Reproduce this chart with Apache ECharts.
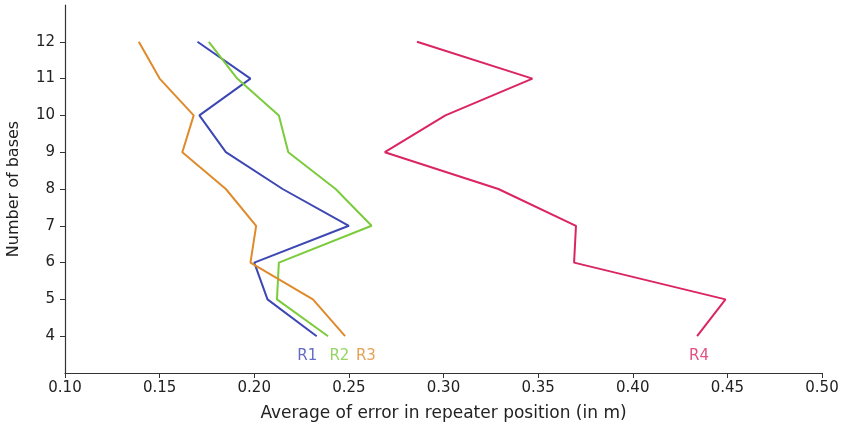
<!DOCTYPE html>
<html>
<head>
<meta charset="utf-8">
<script src="https://cdn.jsdelivr.net/npm/echarts@6/dist/echarts.min.js"></script>
<style>
  html, body { margin: 0; padding: 0; background: #fff; }
  #chart { width: 842px; height: 428px; }
</style>
</head>
<body>
<div id="chart"></div>
<script>
// number of bases (y) and average error per repeater (x)
const bases = [12, 11, 10, 9, 8, 7, 6, 5, 4]
const r1 = [0.170, 0.198, 0.171, 0.185, 0.215, 0.250, 0.200, 0.207, 0.233]
const r2 = [0.176, 0.191, 0.213, 0.218, 0.243, 0.262, 0.213, 0.212, 0.239]
const r3 = [0.139, 0.150, 0.168, 0.162, 0.185, 0.201, 0.198, 0.231, 0.248]
const r4 = [0.286, 0.347, 0.301, 0.269, 0.329, 0.370, 0.369, 0.449, 0.434]

// text labels next to line ends
const labelNames = ['R1', 'R2', 'R3', 'R4']
const labelX = [0.228, 0.245, 0.259, 0.435]
const labelY = [3.45, 3.45, 3.45, 3.45]

const colors = ['#3d47b3', '#7bcb3c', '#df8a2b', '#db2563']
const yTicks = [4, 5, 6, 7, 8, 9, 10, 11, 12]

const pairs = xs => xs.map((x, i) => [x, bases[i]])
const font = 'DejaVu Sans'

const chart = echarts.init(document.getElementById('chart'))

const lineSeries = [r1, r2, r3, r4].map((xs, i) => ({
  type: 'line',
  name: labelNames[i],
  data: pairs(xs),
  showSymbol: false,
  lineStyle: { color: colors[i], width: 2 },
  animation: false,
}))

chart.setOption({
  animation: false,
  textStyle: { fontFamily: font },
  grid: { left: 65, right: 20, top: 5, bottom: 55, outerBoundsMode: 'none' },
  xAxis: {
    type: 'value',
    min: 0.10,
    max: 0.50,
    interval: 0.05,
    name: 'Average of error in repeater position (in m)',
    nameLocation: 'middle',
    nameGap: 32,
    nameTextStyle: { fontSize: 17, color: '#222' },
    axisLine: { lineStyle: { color: '#333', width: 1.2 } },
    axisTick: { show: true, length: 5, lineStyle: { color: '#333' } },
    axisLabel: {
      fontSize: 15,
      color: '#222',
      margin: 8,
      formatter: v => v.toFixed(2),
    },
    splitLine: { show: false },
  },
  yAxis: {
    type: 'value',
    min: 3,
    max: 13,
    interval: 1,
    name: 'Number of bases',
    nameLocation: 'middle',
    nameRotate: 90,
    nameGap: 43,
    nameTextStyle: { fontSize: 16, color: '#222' },
    axisLine: { show: true, lineStyle: { color: '#333', width: 1.2 } },
    axisTick: { show: true, length: 5, customValues: yTicks, lineStyle: { color: '#333' } },
    axisLabel: { fontSize: 15, color: '#222', margin: 10, customValues: yTicks },
    splitLine: { show: false },
  },
  series: [
    ...lineSeries,
    {
      type: 'scatter',
      symbolSize: 0,
      data: labelNames.map((n, i) => ({
        value: [labelX[i], labelY[i]],
        label: { color: colors[i] },
      })),
      label: {
        show: true,
        position: 'inside',
        fontSize: 15,
        formatter: p => labelNames[p.dataIndex],
      },
      animation: false,
    },
  ],
})
</script>
</body>
</html>
